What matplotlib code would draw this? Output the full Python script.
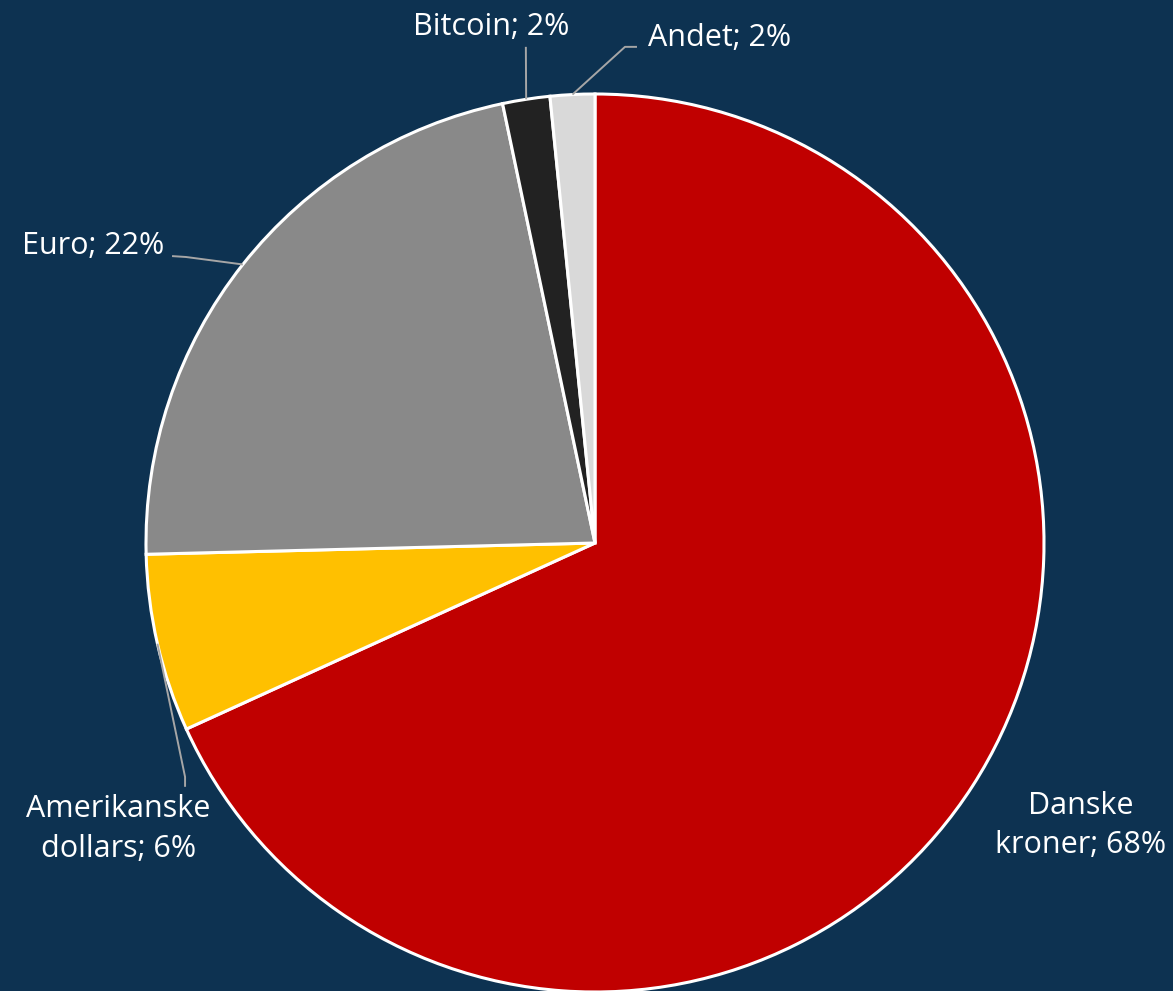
import numpy as np
import matplotlib.pyplot as plt

categories = ["Danske\nkroner", "Amerikanske\ndollars", "Euro", "Bitcoin", "Andet"]
shares = [68.2, 6.4, 22.1, 1.7, 1.6]
colors = ["#c00000", "#ffc000", "#898989", "#222222", "#d9d9d9"]

# label centres and leader line start points (data units, radius = 1)
label_pos = [(1.082, -0.630), (-1.062, -0.637), (-1.118, 0.661), (-0.231, 1.149), (0.278, 1.125)]
leader_pts = [None,
              [(-0.913, -0.543), (-0.913, -0.521)],
              [(-0.942, 0.639), (-0.911, 0.637)],
              [(-0.154, 1.105)],
              [(0.0935, 1.105), (0.0668, 1.105)]]

bg = "#0d3251"
plt.rcParams['font.family'] = ['Open Sans', 'DejaVu Sans']

fig = plt.figure(figsize=(11.73, 9.91), dpi=100, facecolor=bg)
ax = fig.add_axes([146/1173, -1/991, 898/1173, 898/991])
ax.set_facecolor(bg)

wedges, _ = ax.pie(shares, colors=colors, startangle=90, counterclock=False,
                   radius=1, wedgeprops=dict(edgecolor="white", linewidth=2.2))

for w, cat, val, pos, pts in zip(wedges, categories, shares, label_pos, leader_pts):
    ax.text(pos[0], pos[1], f"{cat}; {round(val)}%", ha="center", va="center",
            color="white", fontsize=22, linespacing=1.4)
    if pts:
        mid = np.deg2rad((w.theta1 + w.theta2) / 2)
        path = pts + [(np.cos(mid), np.sin(mid))]
        xs, ys = zip(*path)
        ax.plot(xs, ys, color="#a6a6a6", lw=1.4, solid_capstyle="butt", clip_on=False)

ax.set_xlim(-1, 1)
ax.set_ylim(-1, 1)
ax.set_aspect("equal")
ax.axis("off")

fig.savefig("out.png", dpi=100, facecolor=bg)
